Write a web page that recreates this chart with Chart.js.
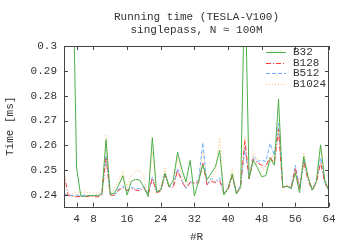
<!DOCTYPE html>
<html>
<head>
<meta charset="utf-8">
<script src="https://cdn.jsdelivr.net/npm/chart.js@4.4.1/dist/chart.umd.min.js"></script>
<style>
  html, body { margin: 0; padding: 0; background: #fff; }
  #wrap { width: 350px; height: 245px; }
</style>
</head>
<body>
<div id="wrap"><canvas id="chart"></canvas></div>
<script>
// R = 1..64
const rValues = Array.from({length: 64}, (_, i) => i + 1);
const xTicks = [4, 8, 16, 24, 32, 40, 48, 56, 64];
const yTicks = [0.24, 0.25, 0.26, 0.27, 0.28, 0.29, 0.3];

const seriesNames = ['B32', 'B128', 'B512', 'B1024'];

const b32 = [
  null, null, 0.341, 0.2509, 0.2395, 0.2395, 0.2398, 0.2398, 0.2397, 0.2405,
  0.2623, 0.2403, 0.2408, 0.2440, 0.2478, 0.2400, 0.2455, 0.2463, 0.2460, 0.2432,
  0.2393, 0.2631, 0.2413, 0.2420, 0.2487, 0.2433, 0.2460, 0.2573, 0.2505, 0.2453,
  0.2540, 0.2396, 0.2455, 0.2522, 0.2461, 0.2487, 0.2514, 0.2580, 0.2400, 0.2427,
  0.2485, 0.2405, 0.2430, 0.330, 0.2466, 0.2540, 0.2510, 0.2474, 0.2478, 0.2548,
  0.2520, 0.2786, 0.2431, 0.2436, 0.2425, 0.2490, 0.2409, 0.2555, 0.2474, 0.2420,
  0.2454, 0.2602, 0.2460, 0.2416
];
const b128 = [
  0.2490, 0.2398, 0.2395, 0.2393, 0.2395, 0.2393, 0.2395, 0.2393, 0.2393, 0.2400,
  0.2547, 0.2400, 0.2398, 0.2420, 0.2430, 0.2418, 0.2425, 0.2420, 0.2418, 0.2430,
  0.2400, 0.2467, 0.2410, 0.2415, 0.2480, 0.2432, 0.2430, 0.2500, 0.2455, 0.2427,
  0.2450, 0.2447, 0.2450, 0.2528, 0.2440, 0.2455, 0.2450, 0.2460, 0.2405, 0.2420,
  0.2475, 0.2408, 0.2435, 0.2620, 0.2466, 0.2545, 0.2530, 0.2520, 0.2515, 0.2555,
  0.2525, 0.2665, 0.2431, 0.2436, 0.2430, 0.2508, 0.2425, 0.2535, 0.2460, 0.2418,
  0.2450, 0.2530, 0.2450, 0.2418
];
const b512 = [
  0.2405, 0.2398, 0.2398, 0.2400, 0.2397, 0.2400, 0.2398, 0.2397, 0.2400, 0.2405,
  0.2560, 0.2402, 0.2400, 0.2425, 0.2436, 0.2420, 0.2430, 0.2427, 0.2425, 0.2435,
  0.2405, 0.2473, 0.2415, 0.2418, 0.2490, 0.2433, 0.2440, 0.2507, 0.2460, 0.2427,
  0.2455, 0.2447, 0.2460, 0.2611, 0.2440, 0.2467, 0.2454, 0.2470, 0.2407, 0.2425,
  0.2480, 0.2407, 0.2440, 0.2590, 0.2466, 0.2555, 0.2535, 0.2540, 0.2535, 0.2608,
  0.2560, 0.2689, 0.2431, 0.2436, 0.2430, 0.2520, 0.2430, 0.2545, 0.2474, 0.2420,
  0.2455, 0.2550, 0.2450, 0.2416
];
const b1024 = [
  0.2410, 0.2400, 0.2405, 0.2412, 0.2410, 0.2412, 0.2410, 0.2408, 0.2410, 0.2410,
  0.2640, 0.2405, 0.2427, 0.2460, 0.2497, 0.2430, 0.2480, 0.2495, 0.2500, 0.2475,
  0.2405, 0.2573, 0.2420, 0.2430, 0.2507, 0.2440, 0.2445, 0.2553, 0.2480, 0.2440,
  0.2470, 0.2450, 0.2465, 0.2575, 0.2445, 0.2470, 0.2490, 0.2631, 0.2410, 0.2428,
  0.2508, 0.2410, 0.2440, 0.2635, 0.2466, 0.2575, 0.2540, 0.2508, 0.2500, 0.2530,
  0.2570, 0.2650, 0.2431, 0.2440, 0.2435, 0.2500, 0.2430, 0.2571, 0.2480, 0.2425,
  0.2460, 0.2600, 0.2460, 0.2418
];

const colors = ['#4daf4a', '#ff3b3b', '#6db3ff', '#ffc06a'];
const dashes = [[], [5, 2, 1, 2], [4, 2], [1, 2]];
const FONT = "'Liberation Mono', 'DejaVu Sans Mono', monospace";
const TEXT = '#333';

const seriesData = [b32, b128, b512, b1024];
const datasets = seriesNames.map((name, k) => ({
  label: name,
  data: rValues.map((r, i) => ({x: r, y: seriesData[k][i]})),
  borderColor: colors[k],
  borderDash: dashes[k],
  borderWidth: 1,
  pointRadius: 0,
  tension: 0,
  fill: false,
  spanGaps: false
}));

// gnuplot-like frame, inner mirrored tics and an in-plot key
const framePlugin = {
  id: 'frame',
  afterDatasetsDraw(chart) {
    const {ctx, chartArea: a, scales: {x, y}} = chart;
    ctx.save();
    ctx.strokeStyle = '#444';
    ctx.lineWidth = 1;
    ctx.setLineDash([]);
    ctx.strokeRect(Math.round(a.left) + 0.5, Math.round(a.top) + 0.5,
      Math.round(a.right - a.left) - 1, Math.round(a.bottom - a.top));
    const tl = 4;
    ctx.beginPath();
    x.ticks.forEach(t => {
      const px = Math.round(x.getPixelForValue(t.value)) + 0.5;
      ctx.moveTo(px, a.bottom); ctx.lineTo(px, a.bottom - tl);
      ctx.moveTo(px, a.top); ctx.lineTo(px, a.top + tl);
    });
    y.ticks.forEach(t => {
      const py = Math.round(y.getPixelForValue(t.value)) + 0.5;
      ctx.moveTo(a.left, py); ctx.lineTo(a.left + tl, py);
      ctx.moveTo(a.right, py); ctx.lineTo(a.right - tl, py);
    });
    ctx.stroke();

    // key
    ctx.font = '11px ' + FONT;
    ctx.textBaseline = 'middle';
    ctx.textAlign = 'left';
    seriesNames.forEach((name, k) => {
      const yy = Math.round(a.top + 6 + k * 10.7) + 0.5;
      ctx.strokeStyle = colors[k];
      ctx.setLineDash(dashes[k]);
      ctx.beginPath();
      ctx.moveTo(a.right - 63, yy);
      ctx.lineTo(a.right - 43, yy);
      ctx.stroke();
      ctx.fillStyle = TEXT;
      ctx.fillText(name, a.right - 36, yy);
    });
    ctx.restore();
  }
};

new Chart('chart', {
  type: 'line',
  data: {datasets},
  options: {
    responsive: true,
    maintainAspectRatio: false,
    animation: false,
    events: [],
    layout: {padding: {left: 0, right: 21, top: 0, bottom: 0}},
    plugins: {
      legend: {display: false},
      tooltip: {enabled: false},
      title: {
        display: true,
        fullSize: false,
        text: ['Running time (TESLA-V100)', 'singlepass, N \u2248 100M'],
        color: TEXT,
        font: {family: FONT, size: 11, weight: 'normal', lineHeight: '13px'},
        padding: {top: 11, bottom: 9}
      }
    },
    scales: {
      x: {
        type: 'linear',
        min: 1,
        max: 64,
        afterBuildTicks: s => { s.ticks = xTicks.map(v => ({value: v})); },
        afterFit: s => { s.height = 38.3; },
        grid: {display: false, drawTicks: false},
        border: {display: false},
        ticks: {color: TEXT, font: {family: FONT, size: 11}, padding: 6, maxRotation: 0},
        title: {display: true, text: '#R', color: TEXT,
          font: {family: FONT, size: 11}, padding: {top: 0, bottom: 1.5}}
      },
      y: {
        type: 'linear',
        min: 0.2353,
        max: 0.3,
        afterBuildTicks: s => { s.ticks = yTicks.map(v => ({value: v})); },
        afterFit: s => { s.width = 64; },
        grid: {display: false, drawTicks: false},
        border: {display: false},
        ticks: {color: TEXT, font: {family: FONT, size: 11}, padding: 7,
          callback: v => String(Math.round(v * 100) / 100)},
        title: {display: true, text: 'Time [ms]', color: TEXT,
          font: {family: FONT, size: 11}, padding: {top: 3, bottom: 0}}
      }
    }
  },
  plugins: [framePlugin]
});
</script>
</body>
</html>
